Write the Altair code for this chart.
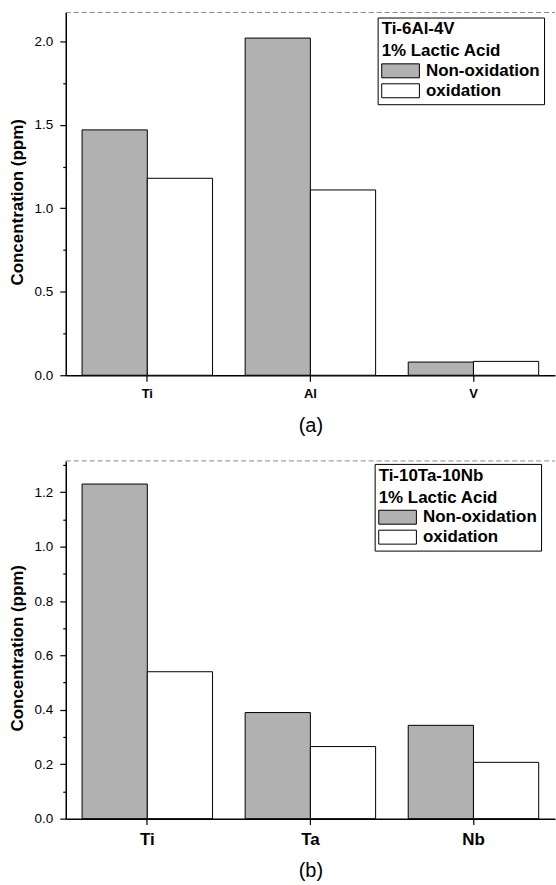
import altair as alt
import pandas as pd

FONT = "Liberation Sans"

# ---- data ----
series = ["Non-oxidation", "oxidation"]
series_colors = ["#b1b1b1", "#ffffff"]

elements_a = ["Ti", "Al", "V"]
nonox_a = [1.47, 2.02, 0.079]
ox_a = [1.18, 1.11, 0.083]

elements_b = ["Ti", "Ta", "Nb"]
nonox_b = [1.23, 0.39, 0.343]
ox_b = [0.54, 0.265, 0.207]

legend_a = ["Ti-6Al-4V", "1% Lactic Acid"]
legend_b = ["Ti-10Ta-10Nb", "1% Lactic Acid"]

yticks_a = [0.0, 0.5, 1.0, 1.5, 2.0]
yminor_a = [0.25, 0.75, 1.25, 1.75]
yticks_b = [0.0, 0.2, 0.4, 0.6, 0.8, 1.0, 1.2]
yminor_b = [0.1, 0.3, 0.5, 0.7, 0.9, 1.1, 1.3]

W = 491


def panel(elements, nonox, ox, ymax, major, minor, legend_title, height,
          label_size, label_pad, tag, tag_y, leg_x, leg_y):
    df = pd.DataFrame({
        "element": elements + elements,
        "condition": [series[0]] * len(elements) + [series[1]] * len(elements),
        "value": nonox + ox,
    })
    xs = alt.Scale(domain=elements, paddingInner=0.2, paddingOuter=0.1)
    ys = alt.Scale(domain=[0, ymax], nice=False, zero=True)
    all_ticks = sorted(major + minor)
    major_test = "indexof(" + str(major) + ", datum.value) >= 0"

    bars = alt.Chart(df).mark_bar(stroke="black", strokeWidth=1).encode(
        x=alt.X("element:N", scale=xs, sort=elements, axis=alt.Axis(
            title=tag, titleFont=FONT, titleFontSize=20, titleFontWeight="normal",
            titleColor="black", titleY=tag_y, titleBaseline="middle",
            labelFont=FONT, labelFontSize=label_size, labelFontWeight="bold",
            labelColor="black", labelAngle=0, labelPadding=label_pad,
            tickSize=6, tickColor="black", tickWidth=1.2,
            domainColor="black", domainWidth=1.5, grid=False)),
        xOffset=alt.XOffset("condition:N", sort=series,
                            scale=alt.Scale(domain=series, paddingInner=0, paddingOuter=0)),
        y=alt.Y("value:Q", scale=ys, axis=alt.Axis(
            values=all_ticks,
            labelExpr=major_test + " ? format(datum.value, '.1f') : ''",
            title="Concentration (ppm)",
            titleFont=FONT, titleFontSize=17, titleFontWeight="bold", titleColor="black",
            titleX=-48.5, titleY=height / 2 + 8, titleBaseline="middle", titleAngle=270,
            labelFont=FONT, labelFontSize=13.5, labelColor="black", labelPadding=7,
            tickSize={"condition": {"test": major_test, "value": 6}, "value": 3},
            tickColor="black", tickWidth=1.2,
            domainColor="black", domainWidth=1.5, grid=False)),
        fill=alt.Fill("condition:N", scale=alt.Scale(domain=series, range=series_colors),
                      legend=alt.Legend(
                          title=legend_title, orient="none", legendX=leg_x, legendY=leg_y,
                          direction="vertical",
                          titleFont=FONT, titleFontSize=17, titleFontWeight="bold",
                          titleColor="black", titleAnchor="start", titleLineHeight=22,
                          titlePadding=2, titleLimit=300,
                          labelFont=FONT, labelFontSize=17, labelFontWeight="bold",
                          labelColor="black", labelOffset=17, labelLimit=300,
                          symbolType="M-2.7,-1H2.7V1H-2.7Z", symbolSize=196,
                          symbolStrokeColor="black", symbolStrokeWidth=1,
                          symbolOffset=10.5, rowPadding=1,
                          strokeColor="black", fillColor="white", padding=4)),
    )

    # faint dashed frame line along the top of the plot area
    frame = alt.Chart(pd.DataFrame({"k": [0]})).mark_rule(
        color="#8a8a8a", strokeDash=[5, 3], strokeWidth=1
    ).encode(x=alt.value(0), x2=alt.value(W), y=alt.value(0))

    return alt.layer(bars, frame).properties(width=W, height=height)


top = panel(elements_a, nonox_a, ox_a, 2.173, yticks_a, yminor_a, legend_a, 364,
            13, 6, "(a)", 50, 313, 5)
bottom = panel(elements_b, nonox_b, ox_b, 1.315, yticks_b, yminor_b, legend_b, 359,
               17, 7, "(b)", 52, 310, 3)

chart = alt.vconcat(top, bottom, spacing=25).resolve_scale(
    x="independent", y="independent", fill="independent"
).resolve_legend(fill="independent").configure_view(strokeWidth=0).properties(
    padding={"left": 8, "top": 10, "right": 0, "bottom": 0},
    background="white",
)

chart.save("out.html", embed_options={"renderer": "svg", "actions": False})
